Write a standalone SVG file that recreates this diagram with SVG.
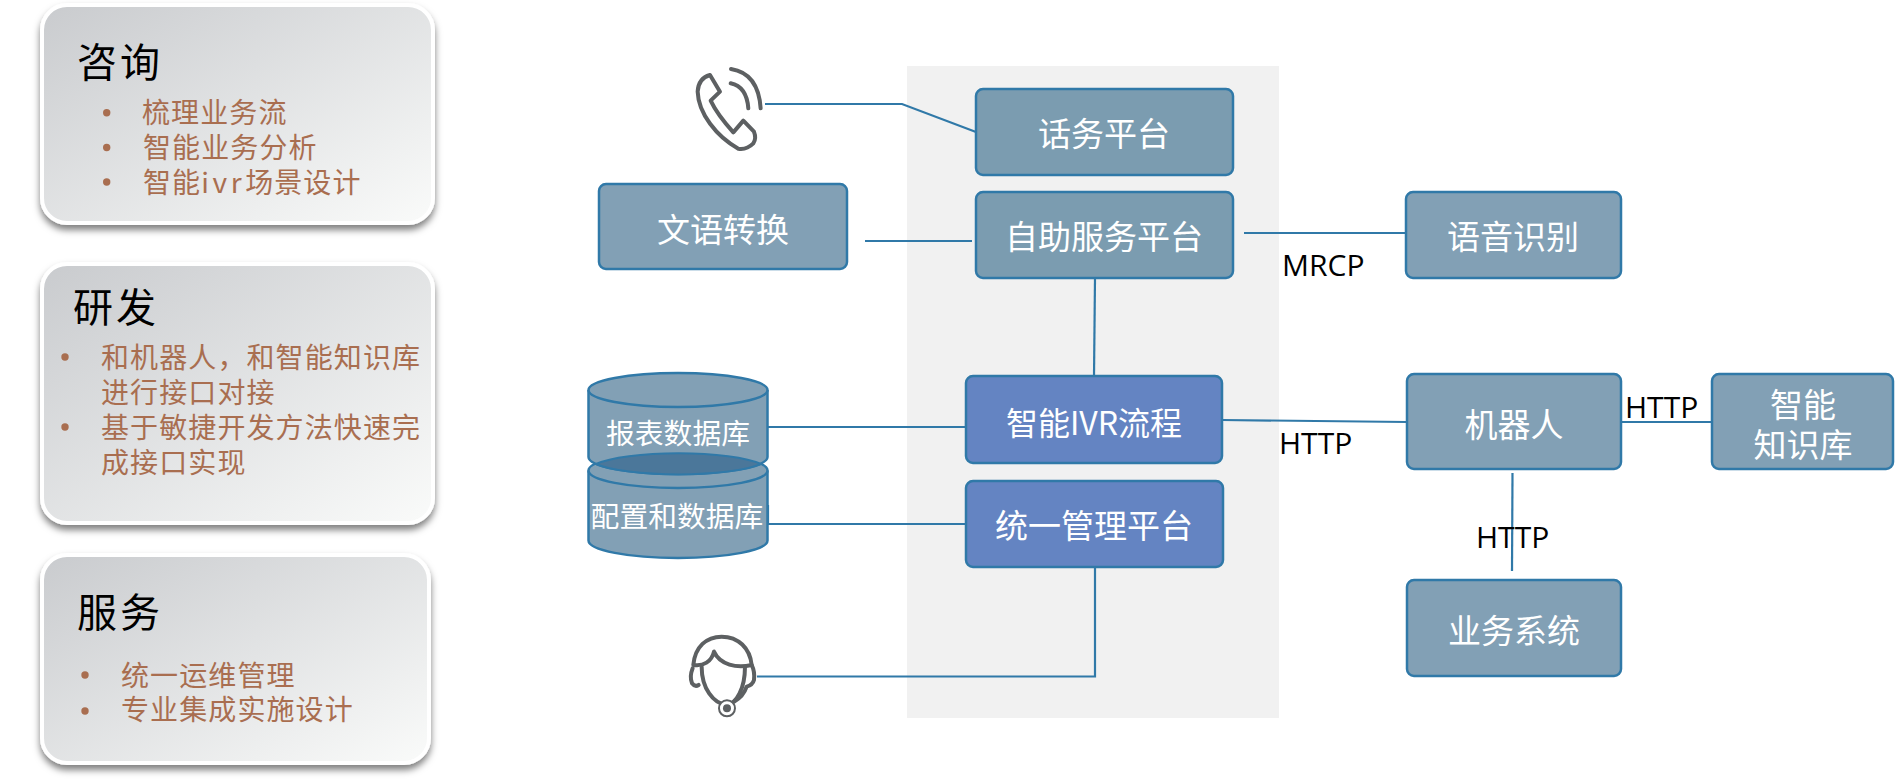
<svg xmlns="http://www.w3.org/2000/svg" width="1895" height="780" viewBox="0 0 1895 780">
  <style>
    text { font-family: "Noto Sans CJK SC", "Noto Sans", sans-serif; }
    .box { stroke: #3079a8; stroke-width: 2.5; fill: #82a0b5; }
    .box.inner { fill: #7b9cb0; }
    .box.flow { fill: #6484c2; }
    .label { fill: #fff; font-size: 33px; text-anchor: middle; }
    .dblabel { fill: #fff; font-size: 28.8px; text-anchor: middle; }
    .proto { fill: #000; font-family: "Open Sans", "Liberation Sans", sans-serif; font-size: 30px; }
    .card { fill: url(#cardFill); stroke: #fff; stroke-width: 4; filter: url(#cardShadow); }
    .title { fill: #000; font-size: 40px; letter-spacing: 3px; }
    .item { fill: #a96e50; font-size: 28px; letter-spacing: 1.1px; }
    .dot { fill: #a96e50; }
    .link { fill: none; stroke: #3079a8; stroke-width: 2.2; }
    .glyph { fill: none; stroke: #5d6062; stroke-width: 12; stroke-linecap: round; stroke-linejoin: round; }
    .cyl { fill: #82a0b5; stroke: #3079a8; stroke-width: 2.5; }
  </style>
  <defs>
    <linearGradient id="cardFill" x1="0" y1="0" x2="1" y2="1">
      <stop offset="0" stop-color="#c9cbce"/>
      <stop offset="1" stop-color="#fafbfa"/>
    </linearGradient>
    <filter id="cardShadow" x="-10%" y="-10%" width="120%" height="125%">
      <feDropShadow dx="0" dy="5" stdDeviation="3.5" flood-color="#000" flood-opacity="0.5"/>
    </filter>
  </defs>

  <rect id="platform-panel" x="907" y="66" width="372" height="652" fill="#f1f1f1"/>

  <!-- Service cards -->
  <g id="card-consult">
    <rect class="card" x="42" y="5" width="391" height="218" rx="25"/>
    <text class="title" x="77" y="77">咨询</text>
    <circle class="dot" cx="106.7" cy="112.7" r="3.7"/>
    <circle class="dot" cx="106.7" cy="147.5" r="3.7"/>
    <circle class="dot" cx="106.7" cy="182" r="3.7"/>
    <text class="item" x="142" y="123">梳理业务流</text>
    <text class="item" x="143" y="158">智能业务分析</text>
    <text class="item" x="143" y="193">智能<tspan letter-spacing="3.6">ivr</tspan>场景设计</text>
  </g>
  <g id="card-develop">
    <rect class="card" x="42" y="264" width="391" height="259" rx="25"/>
    <text class="title" x="73" y="322">研发</text>
    <circle class="dot" cx="65" cy="357" r="3.7"/>
    <circle class="dot" cx="65" cy="427" r="3.7"/>
    <text class="item" x="101" y="368">和机器人，和智能知识库</text>
    <text class="item" x="101" y="403">进行接口对接</text>
    <text class="item" x="101" y="438">基于敏捷开发方法快速完</text>
    <text class="item" x="101" y="473">成接口实现</text>
  </g>
  <g id="card-service">
    <rect class="card" x="42" y="555" width="387" height="208" rx="25"/>
    <text class="title" x="77" y="627">服务</text>
    <circle class="dot" cx="85" cy="675" r="3.7"/>
    <circle class="dot" cx="85" cy="711" r="3.7"/>
    <text class="item" x="121" y="686">统一运维管理</text>
    <text class="item" x="121" y="720">专业集成实施设计</text>
  </g>

  <!-- Connectors -->
  <g id="connectors">
    <path class="link" d="M765 104H902L976 132"/>
    <path class="link" d="M865 241H972"/>
    <path class="link" d="M1244 233H1405"/>
    <path class="link" d="M1095 278L1094 376"/>
    <path class="link" d="M768 427H966M966 420V427"/>
    <path class="link" d="M768 524H966M768 505V524"/>
    <path class="link" d="M757 676.500H1095V568"/>
    <path class="link" d="M1222 420L1407 422"/>
    <path class="link" stroke-width="2.8" d="M1622 422H1712"/>
    <path class="link" stroke-width="1.5" d="M1512.5 473L1512 571"/>
  </g>

  <g id="node-phone" transform="translate(570 50) scale(0.3333)">
    <path class="glyph" d="M420 75L450 125L422 152C440 190 470 225 490 247L520 212L552 245Q560 265 550 280Q530 300 505 296C440 260 385 190 383 125Q385 85 420 75Z"/>
    <path class="glyph" d="M482 100Q530 110 535 175"/>
    <path class="glyph" d="M483 57Q565 70 572 175"/>
  </g>

  <g id="node-agent" transform="translate(570 360) scale(0.3333)">
    <path class="glyph" d="M370 915C375 860 410 830 455 830C505 830 540 865 545 915C500 925 450 915 432 875C425 905 400 920 370 915Z"/>
    <path class="glyph" d="M395 920C395 985 430 1030 470 1035C500 1030 525 985 525 920"/>
    <path class="glyph" d="M368 925Q358 950 366 970Q375 982 386 975"/>
    <path class="glyph" d="M545 915Q555 935 552 960Q548 975 530 980Q520 1010 492 1025"/>
    <circle cx="471" cy="1045" r="24" fill="#fff" stroke="#5d6062" stroke-width="6"/>
    <circle cx="471" cy="1045" r="12" fill="#5d6062"/>
  </g>

  <g id="node-call-platform">
    <rect class="box inner" x="976" y="89" width="257" height="86" rx="7"/>
    <text class="label" x="1104" y="146">话务平台</text>
  </g>
  <g id="node-self-service">
    <rect class="box inner" x="976" y="192" width="257" height="86" rx="7"/>
    <text class="label" x="1104" y="249">自助服务平台</text>
  </g>
  <g id="node-ivr">
    <rect class="box flow" x="966" y="376" width="256" height="87" rx="7"/>
    <text class="label" x="1094" y="435" font-size="32" style="font-size:32px">智能IVR流程</text>
  </g>
  <g id="node-management">
    <rect class="box flow" x="966" y="481" width="257" height="86" rx="7"/>
    <text class="label" x="1094" y="538">统一管理平台</text>
  </g>
  <g id="node-tts">
    <rect class="box" x="599" y="184" width="248" height="85" rx="7"/>
    <text class="label" x="723" y="242">文语转换</text>
  </g>
  <g id="node-asr">
    <rect class="box" x="1406" y="192" width="215" height="86" rx="7"/>
    <text class="label" x="1513" y="249">语音识别</text>
  </g>
  <g id="node-robot">
    <rect class="box" x="1407" y="374" width="214" height="95" rx="7"/>
    <text class="label" x="1514" y="437">机器人</text>
  </g>
  <g id="node-knowledge">
    <rect class="box" x="1712" y="374" width="181" height="95" rx="7"/>
    <text class="label" x="1803" y="417">智能</text>
    <text class="label" x="1803" y="457">知识库</text>
  </g>
  <g id="node-business">
    <rect class="box" x="1407" y="580" width="214" height="96" rx="7"/>
    <text class="label" x="1514" y="643">业务系统</text>
  </g>

  <g id="node-config-db">
    <path class="cyl" d="M588.500 470.500V540.500A89.500 17.500 0 0 0 767.500 540.500V470.500"/>
    <ellipse class="cyl" cx="678" cy="470.500" rx="89.500" ry="17.500"/>
  </g>
  <g id="node-report-db">
    <path class="cyl" d="M588.500 390V457A89.500 17 0 0 0 767.500 457V390"/>
    <ellipse class="cyl" cx="678" cy="390" rx="89.500" ry="17"/>
    <path d="M596 464A89.500 17.500 0 0 1 761 464A89.500 17 0 0 1 596 464Z" fill="#4b779a" stroke="#3079a8" stroke-width="2"/>
    <text class="dblabel" x="678" y="444">报表数据库</text>
    <text class="dblabel" x="677" y="527">配置和数据库</text>
  </g>

  <g id="protocol-labels">
    <text class="proto" x="1282" y="276">MRCP</text>
    <text class="proto" x="1279" y="454">HTTP</text>
    <text class="proto" x="1625" y="418">HTTP</text>
    <text class="proto" x="1476" y="548">HTTP</text>
  </g>
</svg>
